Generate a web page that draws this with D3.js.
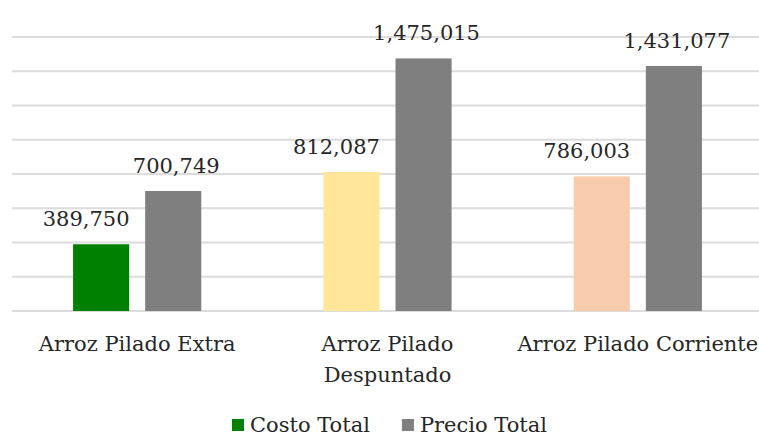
<!DOCTYPE html>
<html>
<head>
<meta charset="utf-8">
<script src="https://cdn.jsdelivr.net/npm/d3@7"></script>
<style>
    body { margin: 0; background: #fff; }
</style>
</head>
<body>
<div class="svg"></div>
<script>
var categories = ["Arroz Pilado Extra", "Arroz Pilado Despuntado", "Arroz Pilado Corriente"];
var seriesNames = ["Costo Total", "Precio Total"];
var costoTotal = [389750, 812087, 786003];
var precioTotal = [700749, 1475015, 1431077];
var yTicks = [0, 200000, 400000, 600000, 800000, 1000000, 1200000, 1400000, 1600000];

var width = 759, height = 437;
var costoColors = ["#008000", "#ffe699", "#f8cbad"];
var precioColor = "#7f7f7f";
var labelShift = [-15, 3];   // data labels sit a little off-centre in the original
var fontFamily = "'DejaVu Serif', 'Liberation Serif', serif";
var fontSize = "21px";

var svg = d3.select("div.svg")
    .append("svg")
    .attr("width", width)
    .attr("height", height)
    .attr("font-family", fontFamily);

var x = d3.scaleBand()
    .domain(categories)
    .range([12, 763]);

var xSub = d3.scaleBand()
    .domain(seriesNames)
    .range([0, x.step()])
    .paddingInner(0.222)
    .paddingOuter(0.847);

var y = d3.scaleLinear()
    .domain([0, 1600000])
    .range([311, 37]);

// gridlines
svg.append("g")
    .selectAll("line")
    .data(yTicks)
    .enter()
    .append("line")
    .attr("x1", 12)
    .attr("x2", width)
    .attr("y1", function (d) { return y(d); })
    .attr("y2", function (d) { return y(d); })
    .style("stroke", "#dcdcdc")
    .style("stroke-width", 2);

// build rows for the bars
var rows = [];
categories.forEach(function (c, i) {
    rows.push({cat: c, series: seriesNames[0], value: costoTotal[i], color: costoColors[i], s: 0});
    rows.push({cat: c, series: seriesNames[1], value: precioTotal[i], color: precioColor, s: 1});
});

svg.append("g")
    .selectAll("rect")
    .data(rows)
    .enter()
    .append("rect")
    .attr("x", function (d) { return x(d.cat) + xSub(d.series); })
    .attr("y", function (d) { return y(d.value); })
    .attr("width", xSub.bandwidth())
    .attr("height", function (d) { return y(0) - y(d.value); })
    .style("fill", function (d) { return d.color; });

var fmt = d3.format(",");
svg.append("g")
    .selectAll("text")
    .data(rows)
    .enter()
    .append("text")
    .attr("x", function (d) { return x(d.cat) + xSub(d.series) + xSub.bandwidth() / 2 + labelShift[d.s]; })
    .attr("y", function (d) { return y(d.value) - 18; })
    .attr("text-anchor", "middle")
    .attr("fill", "#262626")
    .style("font-size", fontSize)
    .text(function (d) { return fmt(d.value); });

// category labels, wrapped to the band width
var catLabels = svg.append("g")
    .selectAll("text")
    .data(categories)
    .enter()
    .append("text")
    .attr("x", function (d) { return x(d) + x.bandwidth() / 2; })
    .attr("y", 351)
    .attr("text-anchor", "middle")
    .attr("fill", "#262626")
    .style("font-size", fontSize);

catLabels.each(function (d) {
    var el = d3.select(this);
    var words = d.split(" ");
    var line = [];
    var lineNo = 0;
    var tspan = el.append("tspan").attr("x", el.attr("x")).attr("y", 351);
    words.forEach(function (w) {
        line.push(w);
        tspan.text(line.join(" "));
        // the middle label wraps in the original, the others fit on one line
        if (tspan.node().getComputedTextLength() > x.bandwidth() * 0.97 && line.length > 1) {
            line.pop();
            tspan.text(line.join(" "));
            line = [w];
            lineNo++;
            tspan = el.append("tspan").attr("x", el.attr("x")).attr("y", 351 + lineNo * 31).text(w);
        }
    });
});

// legend
var legend = svg.append("g");
var lx = 232;
seriesNames.forEach(function (name, i) {
    legend.append("rect")
        .attr("x", lx)
        .attr("y", 419)
        .attr("width", 12)
        .attr("height", 12)
        .style("fill", i === 0 ? costoColors[0] : precioColor);
    var t = legend.append("text")
        .attr("x", lx + 18)
        .attr("y", 432)
        .attr("fill", "#262626")
        .style("font-size", fontSize)
        .text(name);
    lx += 18 + t.node().getComputedTextLength() + 32;
});
</script>
</body>
</html>
